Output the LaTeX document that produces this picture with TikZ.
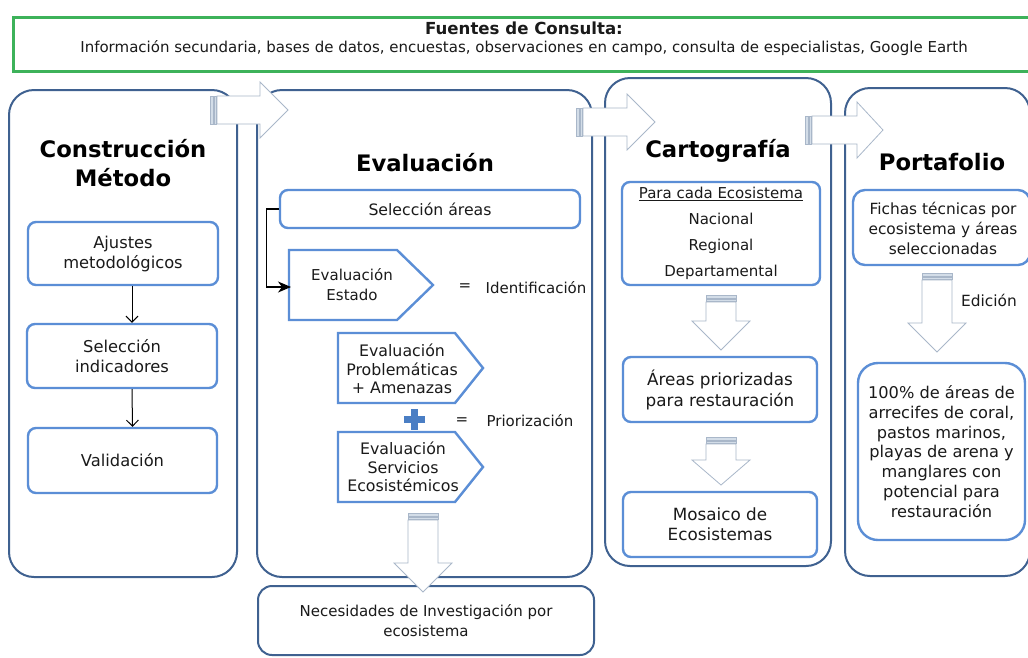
\documentclass[tikz,border=0pt]{standalone}
\usepackage{fontspec}
\setmainfont{DejaVu Sans}
\usetikzlibrary{arrows.meta}

\definecolor{colblue}{HTML}{3F6190}
\definecolor{inblue}{HTML}{5B8ED6}
\definecolor{srcgreen}{HTML}{3DB25A}
\definecolor{arrgrey}{HTML}{A9B7C9}
\definecolor{barfill}{HTML}{D3DDE8}
\definecolor{plusblue}{HTML}{4A7EC4}
\definecolor{ink}{HTML}{1A1A1A}

\newcommand{\boxfont}{\fontsize{15}{20}\selectfont}
\newcommand{\headfont}{\fontsize{22.7}{29}\selectfont\bfseries}

\begin{document}
\begin{tikzpicture}[x=1pt,y=-1pt,
	column/.style={draw=colblue, line width=2pt, fill=white, rounded corners=25pt},
	inbox/.style={draw=inblue, line width=2.4pt, fill=white, rounded corners=8pt, align=center, font=\boxfont, text=ink},
	pent/.style={draw=inblue, line width=2.4pt, fill=white},
	label/.style={align=center, font=\boxfont, text=ink, inner sep=0pt},
	title/.style={align=center, font=\headfont, text=black, inner sep=0pt},
	blockarrow/.style={draw=arrgrey, line width=0.8pt, fill=white},
	bar/.style={draw=arrgrey, line width=0.6pt, fill=barfill}]
	\useasboundingbox (0,0) rectangle (1028,657);
	\fill[white] (0,0) rectangle (1028,657);
	% fuentes de consulta
	\node[draw=srcgreen, line width=2.5pt, fill=white, minimum width=1030pt, minimum height=54pt, anchor=north west, inner sep=0pt] (fuentes) at (12,16) {};
	\node[label, font=\fontsize{16.6}{18}\selectfont\bfseries] (fuentestit) at (524,28) {Fuentes de Consulta:};
	\node[label, font=\fontsize{15}{18}\selectfont] (fuenteslist) at (524,48) {Información secundaria, bases de datos, encuestas, observaciones en campo, consulta de especialistas, Google Earth};
	% columnas
	\node[column, minimum width=228pt, minimum height=487pt] (colmet) at (123,333.5) {};
	\node[column, minimum width=335pt, minimum height=487pt] (coleval) at (424.5,333.5) {};
	\node[column, minimum width=226pt, minimum height=488pt] (colcarto) at (718,322) {};
	\node[column, minimum width=185pt, minimum height=488pt] (colport) at (937.5,332) {};
	\node[column, rounded corners=14pt, minimum width=336pt, minimum height=69pt, align=center, font=\boxfont, text=ink] (necesidades) at (426,620.5) {Necesidades de Investigación por\\ecosistema};
	\node[title] (tmet) at (123,163) {Construcción\\Método};
	\node[title] (teval) at (425,163) {Evaluación};
	\node[title] (tcarto) at (718,151) {Cartografía};
	\node[title] (tport) at (942,162) {Portafolio};
	% construccion metodo
	\node[inbox, font=\fontsize{16.3}{20}\selectfont, minimum width=190pt, minimum height=63pt] (ajustes) at (123,253.5) {Ajustes\\metodológicos};
	\node[inbox, font=\fontsize{16.3}{20}\selectfont, minimum width=190pt, minimum height=64pt] (selind) at (122,356) {Selección\\indicadores};
	\node[inbox, font=\fontsize{16.3}{20}\selectfont, minimum width=189pt, minimum height=65pt] (valid) at (122.5,460.5) {Validación};
	\draw[-{Straight Barb[length=6pt,width=12pt]}, line width=1pt] ([xshift=9pt]ajustes.south) -- ([xshift=10pt]selind.north);
	\draw[-{Straight Barb[length=6pt,width=12pt]}, line width=1pt] ([xshift=10pt]selind.south) -- ([xshift=10pt]valid.north);
	% evaluacion
	\node[inbox, font=\fontsize{15.7}{20}\selectfont, minimum width=300pt, minimum height=38pt] (selareas) at (430,209) {Selección áreas};
	\draw[pent] (289,250) -- (397,250) -- (433,285) -- (397,320) -- (289,320) -- cycle;
	\draw[pent] (338,333) -- (455,333) -- (483,368) -- (455,403) -- (338,403) -- cycle;
	\draw[pent] (338,432) -- (455,432) -- (483,467) -- (455,502) -- (338,502) -- cycle;
	\node[label] (estado) at (352,285) {Evaluación\\Estado};
	\node[label, font=\fontsize{15.8}{18.5}\selectfont] (problem) at (402,369) {Evaluación\\Problemáticas\\+ Amenazas};
	\node[label, font=\fontsize{15.8}{18.5}\selectfont] (servicios) at (403,467) {Evaluación\\Servicios\\Ecosistémicos};
	\coordinate (estadoin) at (291,287);
	\draw[-{Stealth[length=13pt,width=11pt,inset=4pt]}, line width=1.2pt] (selareas.west) -- ++(-12,0) |- (estadoin);
	\node[label] (igual1) at (465,287) {=};
	\node[label] (ident) at (536,288) {Identificación};
	\fill[plusblue] (410.5,409) rectangle (417.5,430);
	\fill[plusblue] (403.5,416) rectangle (424.5,423);
	\node[label] (igual2) at (462,421) {=};
	\node[label] (prior) at (530,421) {Priorización};
	% cartografia
	\node[inbox, minimum width=198pt, minimum height=103pt] (paracada) at (721,233.5) {\underline{Para cada Ecosistema}\\[6pt]Nacional\\[6pt]Regional\\[6pt]Departamental};
	\node[inbox, font=\fontsize{16.8}{21}\selectfont, minimum width=194pt, minimum height=65pt] (areaspri) at (720,389.5) {Áreas priorizadas\\para restauración};
	\node[inbox, font=\fontsize{16.8}{20}\selectfont, minimum width=194pt, minimum height=65pt] (mosaico) at (720,524.5) {Mosaico de\\Ecosistemas};
	% portafolio
	\node[inbox, rounded corners=12pt, minimum width=177pt, minimum height=75pt] (fichas) at (941.5,227.5) {};
	\node[label, font=\fontsize{15.4}{20}\selectfont] (fichastxt) at (943,228) {Fichas técnicas por\\ecosistema y áreas\\seleccionadas};
	\node[label, font=\fontsize{15.4}{20}\selectfont] (edicion) at (989,300) {Edición};
	\node[inbox, font=\fontsize{16.2}{19.8}\selectfont, rounded corners=20pt, minimum width=167pt, minimum height=177pt] (cien) at (941.5,451.5) {100\% de áreas de\\arrecifes de coral,\\pastos marinos,\\playas de arena y\\manglares con\\potencial para\\restauración};
	% flechas de bloque
	\foreach \xa/\xb/\xc/\yc in {210/260/288/110, 576/627/655/122, 805/857/883/130} {
		\draw[blockarrow] (\xa+7,\yc-14) -- (\xb,\yc-14) -- (\xb,\yc-28) -- (\xc,\yc) -- (\xb,\yc+28) -- (\xb,\yc+14) -- (\xa+7,\yc+14) -- cycle;
		\draw[bar] (\xa,\yc-14) rectangle (\xa+3,\yc+14);
		\draw[bar] (\xa+4,\yc-14) rectangle (\xa+6,\yc+14);
	}
	\foreach \xc/\ya/\yb/\yt in {423/513/563/592, 721/295/321/350, 721/437/460/485, 937/273/323/352} {
		\draw[blockarrow] (\xc-15,\ya+7) -- (\xc-15,\yb) -- (\xc-29,\yb) -- (\xc,\yt) -- (\xc+29,\yb) -- (\xc+15,\yb) -- (\xc+15,\ya+7) -- cycle;
		\draw[bar] (\xc-15,\ya) rectangle (\xc+15,\ya+3);
		\draw[bar] (\xc-15,\ya+4) rectangle (\xc+15,\ya+6);
	}
\end{tikzpicture}
\end{document}
